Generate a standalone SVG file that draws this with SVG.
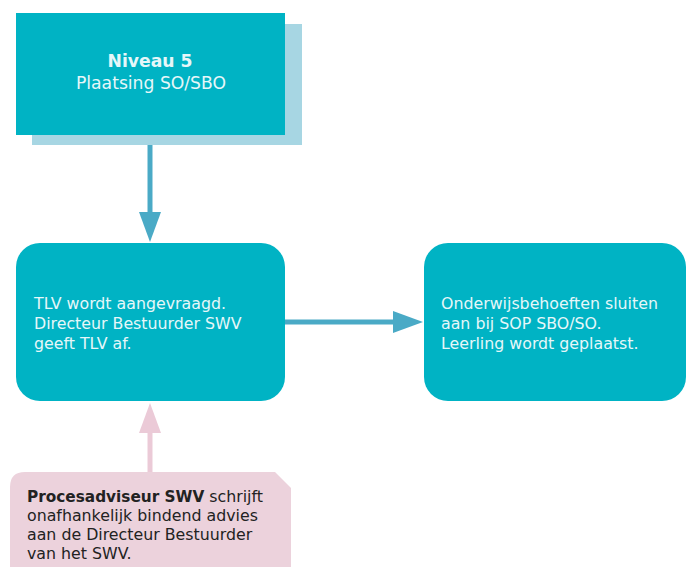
<svg xmlns="http://www.w3.org/2000/svg" width="686" height="567" viewBox="0 0 686 567">
<defs>
<style>
.box{fill:#00b3c4}
.t{font-family:"DejaVu Sans",Verdana,sans-serif;font-size:15.8px;fill:#e6f7f9}
.h{font-size:17.2px}
.p{font-family:"DejaVu Sans",Verdana,sans-serif;font-size:15.8px;fill:#222}
.b{font-weight:bold}
.pb{font-weight:bold;font-size:15.3px}
.con{stroke:#4aaac6;stroke-width:5;fill:none}
.conp{stroke:#ebcad7;stroke-width:5;fill:none}
</style>
</defs>
<rect width="686" height="567" fill="#ffffff"/>
<g id="connectors">
<line class="con" x1="150" y1="135" x2="150" y2="216"/>
<polygon points="139,212 161,212 150,242" fill="#4aaac6"/>
<line class="con" x1="285" y1="322" x2="396" y2="322"/>
<polygon points="393,311 393,333 423,322" fill="#4aaac6"/>
<line class="conp" x1="150" y1="472" x2="150" y2="430"/>
<polygon points="139,433 161,433 150,403" fill="#ebcad7"/>
</g>
<g id="niveau5">
<rect x="32" y="24" width="270" height="121" fill="#a7d6e3"/>
<rect class="box" x="16" y="13" width="269" height="122"/>
<text class="t h b" x="150" y="67" text-anchor="middle" fill="#ffffff">Niveau 5</text>
<text class="t h" x="151" y="89" text-anchor="middle">Plaatsing SO/SBO</text>
</g>
<g id="tlv">
<rect class="box" x="16" y="243" width="269" height="158" rx="24"/>
<text class="t" x="34" y="309">TLV wordt aangevraagd.</text>
<text class="t" x="34" y="329">Directeur Bestuurder SWV</text>
<text class="t" x="34" y="349">geeft TLV af.</text>
</g>
<g id="onderwijs">
<rect class="box" x="424" y="243" width="262" height="158" rx="24"/>
<text class="t" x="441" y="309">Onderwijsbehoeften sluiten</text>
<text class="t" x="441" y="329">aan bij SOP SBO/SO.</text>
<text class="t" x="441" y="349">Leerling wordt geplaatst.</text>
</g>
<g id="procesadviseur">
<path d="M10,567 V487 Q10,472 25,472 H275 L291,488 V567 Z" fill="#ecd2dc"/>
<text class="p" x="27" y="502"><tspan class="pb">Procesadviseur SWV</tspan> schrijft</text>
<text class="p" x="27" y="521">onafhankelijk bindend advies</text>
<text class="p" x="27" y="540">aan de Directeur Bestuurder</text>
<text class="p" x="27" y="559">van het SWV.</text>
</g>
</svg>
